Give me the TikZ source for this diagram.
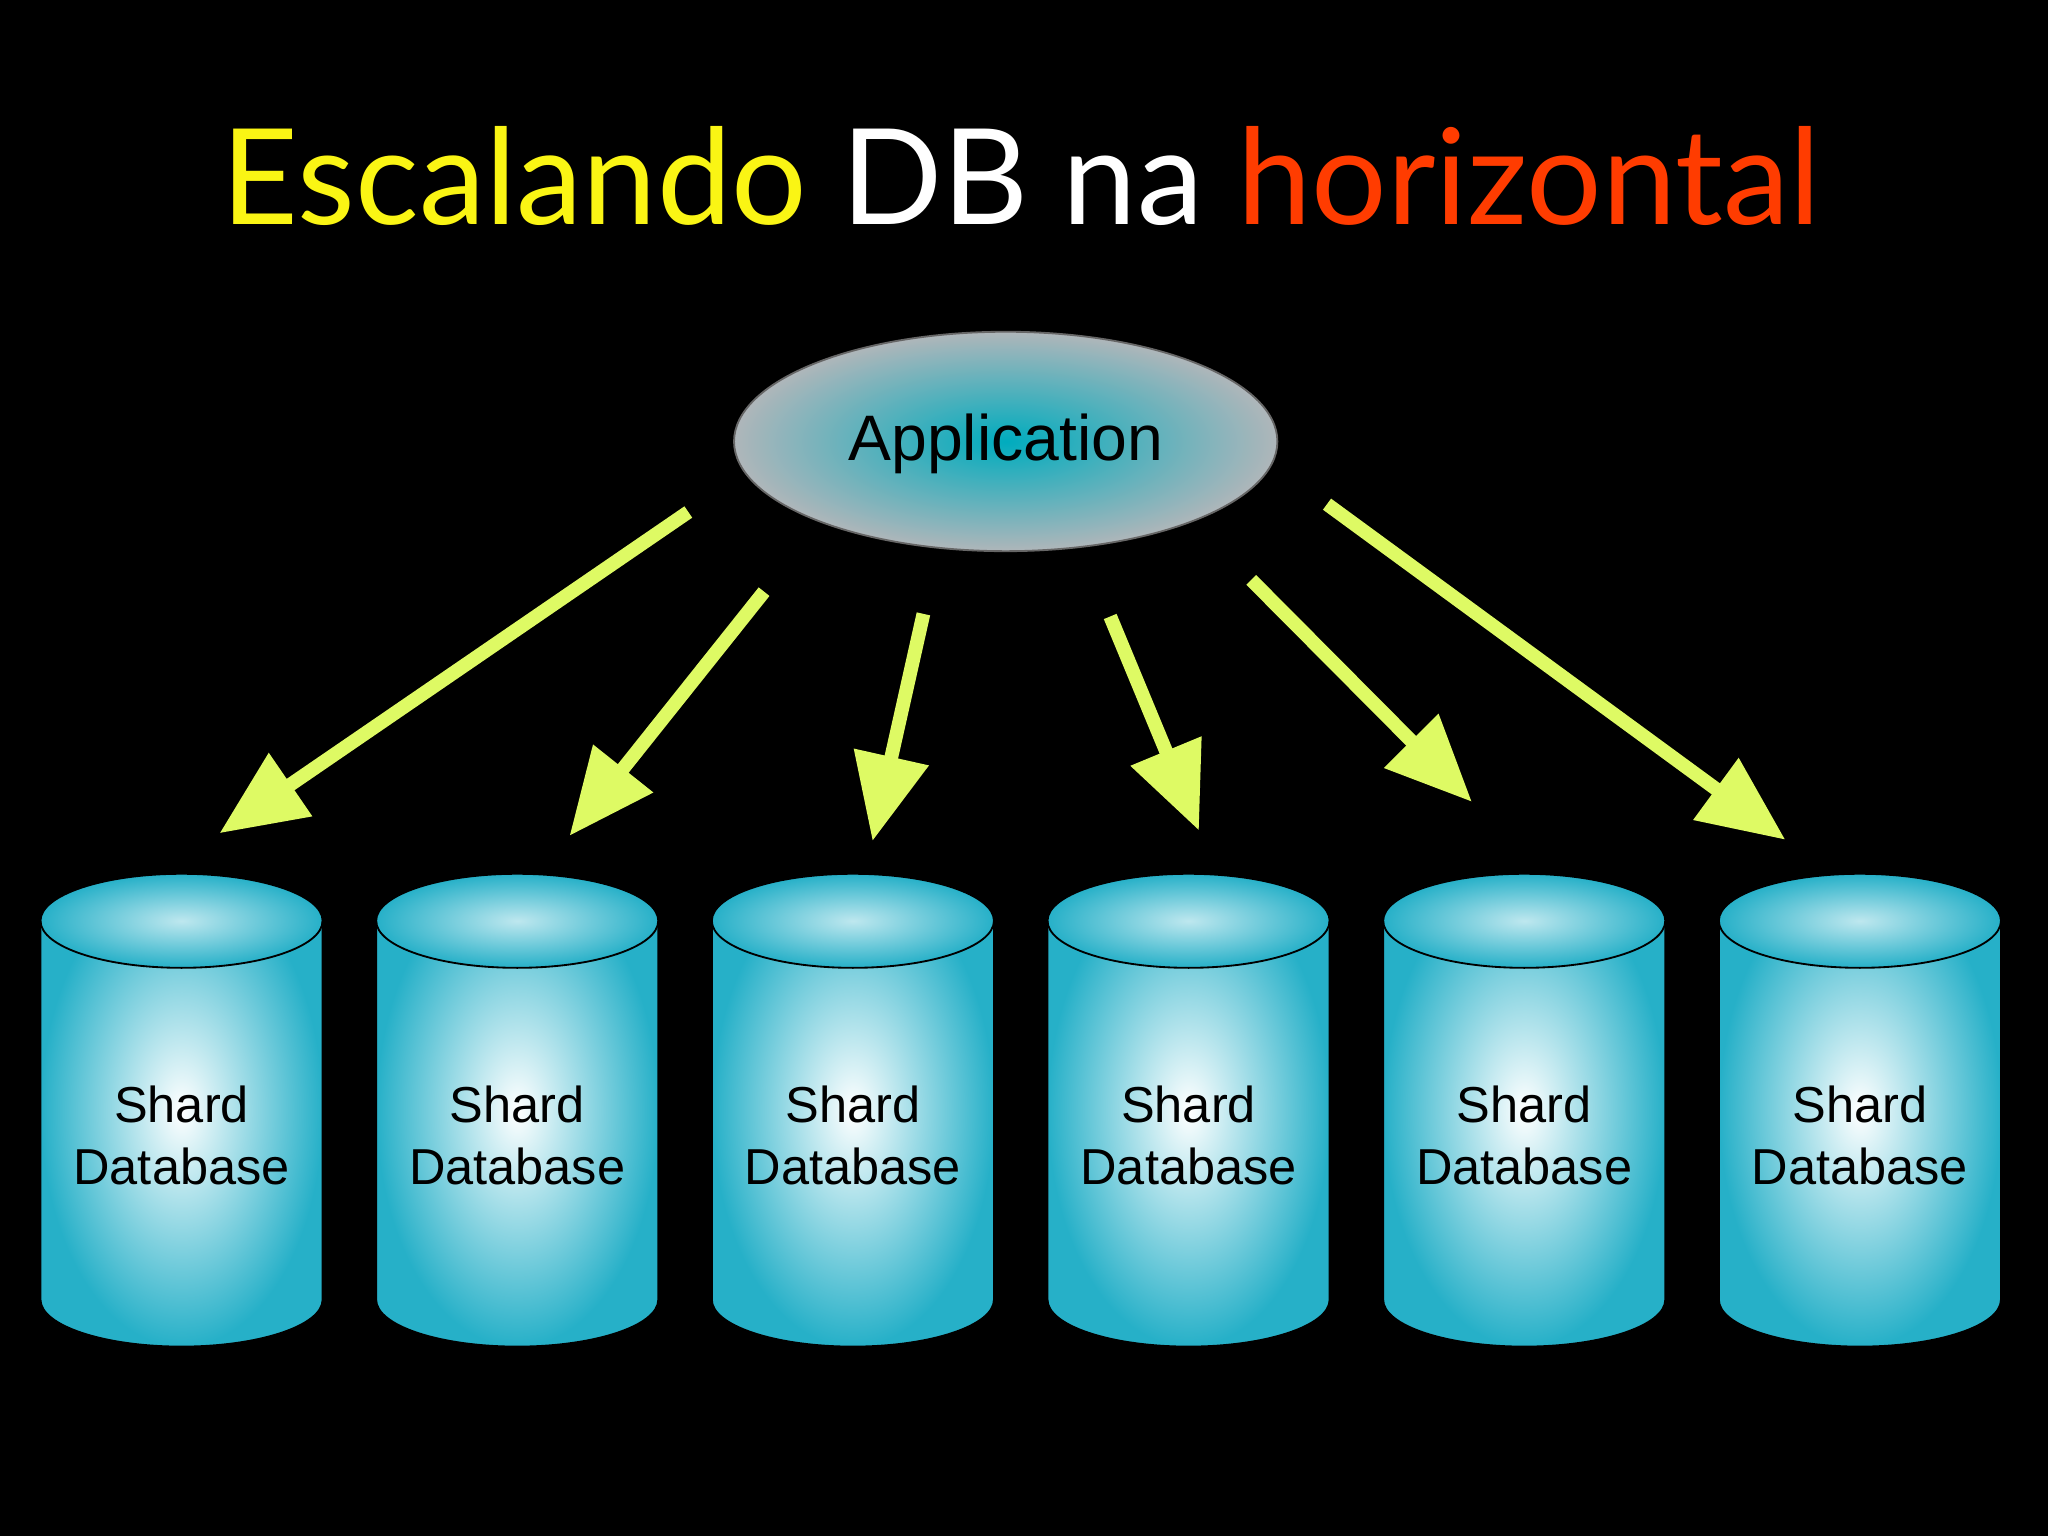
\documentclass[tikz,border=0pt]{standalone}
\usepackage{fontspec}
\setmainfont{Lato}
\newfontfamily\helv{Liberation Sans}
\usetikzlibrary{arrows.meta,shapes.geometric}
\definecolor{arrowc}{RGB}{222,250,100}
\definecolor{tealc}{RGB}{38,176,200}
\definecolor{appc}{RGB}{0,172,190}
\definecolor{appg}{RGB}{175,182,186}
\definecolor{titley}{RGB}{250,245,20}
\definecolor{titler}{RGB}{255,60,0}
\tikzset{
  arr/.style={draw=arrowc,line width=3pt,-{Triangle[length=0.66cm,width=0.56cm]}},
  cyl/.style={inner color=white,outer color=tealc},
  lbl/.style={font=\helv\fontsize{11}{13.5}\selectfont,align=center,text=black}
}
\begin{document}
\begin{tikzpicture}[x=0.01cm,y=-0.01cm]
\fill[black] (0,0) rectangle (1568,1176);
\node (title) at (782,135) {\fontsize{29}{32}\selectfont\textcolor{titley}{Escalando} \textcolor{white}{DB na} \textcolor{titler}{horizontal}};
\shade[inner color=appc,outer color=appg] (770,338) ellipse [x radius=208,y radius=84];
\draw[black!60,thin] (770,338) ellipse [x radius=208,y radius=84];
\node[font=\helv\fontsize{14}{17}\selectfont,text=black] (app) at (770,340) {Application};
\foreach \i/\x in {1/139,2/396,3/653,4/910,5/1167,6/1424}{
  \shade[cyl] (\x-108,705) -- (\x-108,995) arc[start angle=180,end angle=0,x radius=108,y radius=36] -- (\x+108,705) arc[start angle=0,end angle=-180,x radius=108,y radius=36] -- cycle;
  \shade[inner color=white!70!tealc,outer color=tealc] (\x,705) ellipse [x radius=108,y radius=36];
  \draw[black,thin] (\x-108,705) -- (\x-108,995) arc[start angle=180,end angle=0,x radius=108,y radius=36] -- (\x+108,705);
  \draw[black,thin] (\x,705) ellipse [x radius=108,y radius=36];
  \node[lbl] (db\i) at (\x,869) {Shard\\Database};
}
\coordinate (s1) at (527,392); \coordinate (e1) at (168,638);
\coordinate (s2) at (585,453); \coordinate (e2) at (436,640);
\coordinate (s3) at (707,470); \coordinate (e3) at (668,644);
\coordinate (s4) at (850,472); \coordinate (e4) at (918,636);
\coordinate (s5) at (958,444); \coordinate (e5) at (1127,614);
\coordinate (s6) at (1016,386); \coordinate (e6) at (1367,643);
\foreach \i in {1,...,6}{\draw[arr] (s\i) -- (e\i);}
\end{tikzpicture}
\end{document}
